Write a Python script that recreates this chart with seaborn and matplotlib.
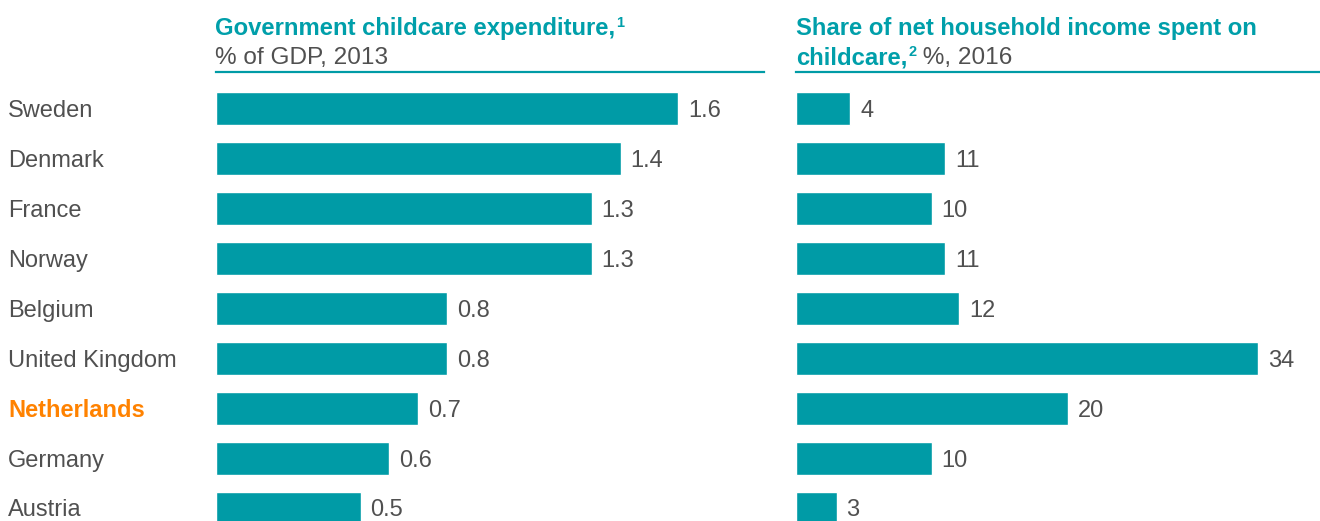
import matplotlib
matplotlib.use("Agg")
import matplotlib.pyplot as plt
import matplotlib.transforms as mtransforms
import seaborn as sns

# ── Data ──
countries = ["Sweden", "Denmark", "France", "Norway", "Belgium",
             "United Kingdom", "Netherlands", "Germany", "Austria"]
gov_expenditure = [1.6, 1.4, 1.3, 1.3, 0.8, 0.8, 0.7, 0.6, 0.5]
income_share = [4, 11, 10, 11, 12, 34, 20, 10, 3]
highlight = "Netherlands"

TEAL = "#009BA6"
TITLE_TEAL = "#009FAA"
GRAY = "#505050"
ORANGE = "#FF8200"
FS = 17
TFS = 17.2
SFS = 17.6

sns.set_style("white")
plt.rcParams["font.family"] = ["Liberation Sans", "DejaVu Sans"]

W, H = 1320, 521
fig = plt.figure(figsize=(W / 100, H / 100), dpi=100)

top_px = 72
ax_h = (H - top_px) / H
ax1 = fig.add_axes([216 / W, 0, 548 / W, ax_h])
ax2 = fig.add_axes([796 / W, 0, 524 / W, ax_h])


def style_axis(ax, values, xmax, fmt):
    sns.barplot(x=values, y=countries, orient="h", color=TEAL,
                saturation=1, width=0.66, ax=ax)
    ax.set_xlim(0, xmax)
    ax.set_ylim(8.26, -0.72)
    for side in ["left", "right", "bottom"]:
        ax.spines[side].set_visible(False)
    ax.spines["top"].set_color(TEAL)
    ax.spines["top"].set_linewidth(1.6)
    ax.set_xticks([])
    ax.set_yticks([])
    ax.set_xlabel("")
    ax.set_ylabel("")
    labels = ax.bar_label(ax.containers[0], fmt=fmt, padding=7,
                          fontsize=FS, color=GRAY)
    for lbl in labels:
        lbl.set_va("center_baseline")


style_axis(ax1, gov_expenditure, 548 / 289, "{:.1f}")
style_axis(ax2, income_share, 524 / 13.59, "{:.0f}")

# ── Country labels ──
trans = mtransforms.blended_transform_factory(fig.transFigure, ax1.transData)
for i, c in enumerate(countries):
    is_hl = c == highlight
    ax1.text(8 / W, i, c, transform=trans, va="center_baseline", ha="left",
             fontsize=FS, color=ORANGE if is_hl else GRAY,
             fontweight="bold" if is_hl else "normal", clip_on=False)

# ── Titles ──
y1 = 1 - 35 / H
y2 = 1 - 64 / H

t = fig.text(215 / W, y1, "Government childcare expenditure,", fontsize=TFS,
             fontweight="bold", color=TITLE_TEAL, va="baseline")
fig.text(215 / W, y2, "% of GDP, 2013", fontsize=SFS, color=GRAY, va="baseline")
ax1.annotate("1", xy=(1, 1), xycoords=t, xytext=(0.5, 1),
             textcoords="offset points", fontsize=10.5, fontweight="bold",
             color=TITLE_TEAL, va="top", ha="left")

fig.text(796 / W, y1, "Share of net household income spent on", fontsize=TFS,
         fontweight="bold", color=TITLE_TEAL, va="baseline")
t2 = fig.text(796 / W, y2, "childcare,", fontsize=TFS, fontweight="bold",
              color=TITLE_TEAL, va="baseline")
sup = ax2.annotate("2", xy=(1, 1), xycoords=t2, xytext=(0.5, 1),
                   textcoords="offset points", fontsize=10.5, fontweight="bold",
                   color=TITLE_TEAL, va="top", ha="left")
ax2.annotate(" %, 2016", xy=(1, 0), xycoords=(sup, t2), fontsize=SFS,
             color=GRAY, va="bottom", ha="left")

fig.savefig("out.png", dpi=100)
